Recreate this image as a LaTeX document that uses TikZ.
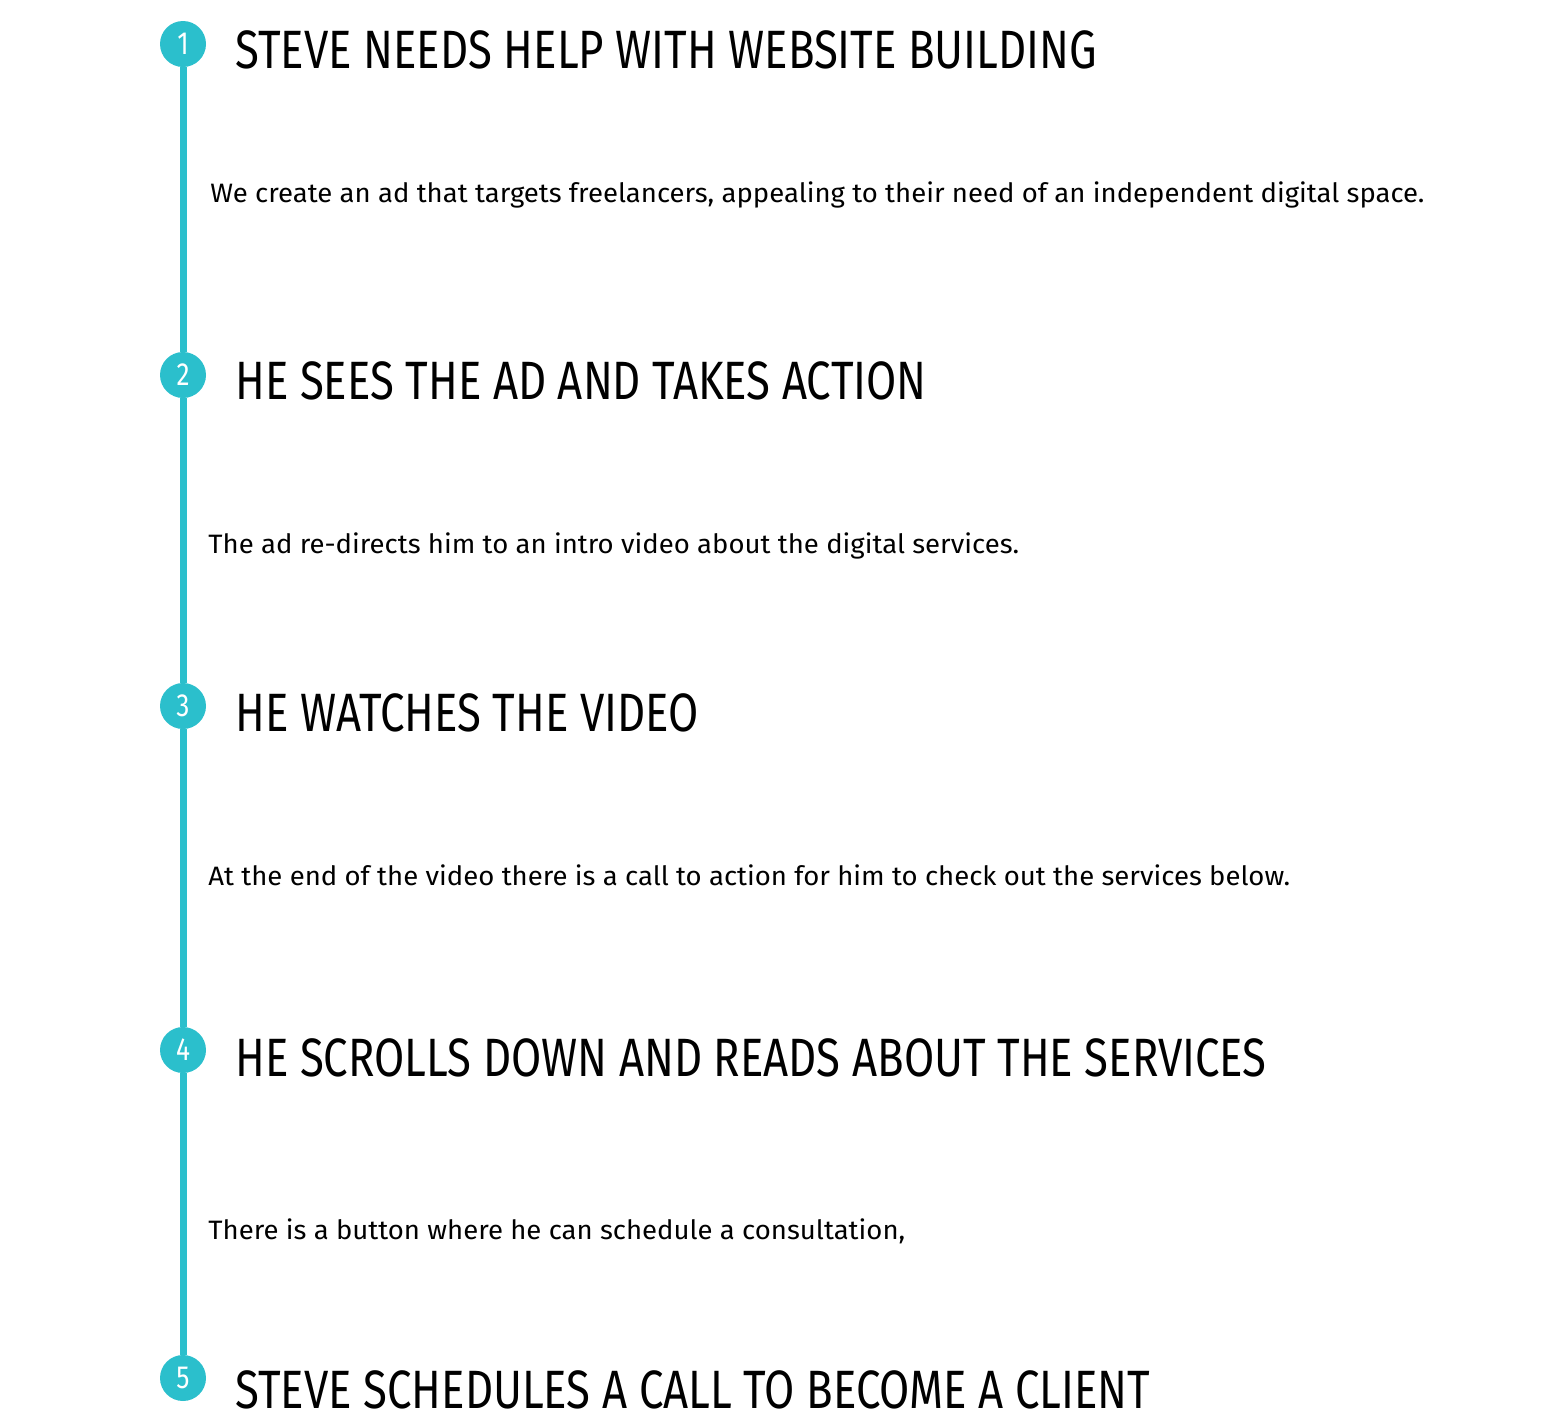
\documentclass[tikz,border=0pt]{standalone}
\usepackage{fontspec}
\setmainfont{Fira Sans}[FakeStretch=1.035]
\newfontfamily\headfont{Fira Sans}[FakeStretch=0.81]
\newfontfamily\numfont{Fira Sans}[FakeStretch=0.82]
\usepackage{tikz}
\definecolor{teal}{HTML}{2BBFCC}

\begin{document}
\begin{tikzpicture}[x=0.5pt,y=-0.5pt]
  \tikzstyle{stepdot}=[circle,fill=teal,text=white,minimum size=23pt,inner sep=0pt,font=\numfont\fontsize{16}{16}\selectfont]
  \tikzstyle{timeline}=[draw=teal,line width=3.5pt]
  \tikzstyle{heading}=[anchor=base west,inner sep=0pt,font=\headfont\fontsize{27}{27}\selectfont]
  \tikzstyle{detail}=[anchor=base west,inner sep=0pt,font=\fontsize{13.3}{13.3}\selectfont]
  \useasboundingbox (0,0) rectangle (1558,1425);
  \node[stepdot] (c1) at (183,44)   {1};
  \node[stepdot] (c2) at (183,375)  {2};
  \node[stepdot] (c3) at (183,706)  {3};
  \node[stepdot] (c4) at (183,1050) {4};
  \node[stepdot] (c5) at (183,1378) {5};
  \foreach \a/\b in {1/2,2/3,3/4,4/5}
    \draw[timeline] (c\a) -- (c\b);
  \node[heading] (h1) at (235,68)   {STEVE NEEDS HELP WITH WEBSITE BUILDING};
  \node[heading] (h2) at (235,399)  {HE SEES THE AD AND TAKES ACTION};
  \node[heading] (h3) at (235,731)  {HE WATCHES THE VIDEO};
  \node[heading] (h4) at (235,1076) {HE SCROLLS DOWN AND READS ABOUT THE SERVICES};
  \node[heading] (h5) at (235,1408) {STEVE SCHEDULES A CALL TO BECOME A CLIENT};
  \node[detail] (d1) at (210,202)  {We create an ad that targets freelancers, appealing to their need of an independent digital space.};
  \node[detail] (d2) at (208,553)  {The ad re-directs him to an intro video about the digital services.};
  \node[detail] (d3) at (208,885)  {At the end of the video there is a call to action for him to check out the services below.};
  \node[detail] (d4) at (208,1239) {There is a button where he can schedule a consultation,};
\end{tikzpicture}
\end{document}
